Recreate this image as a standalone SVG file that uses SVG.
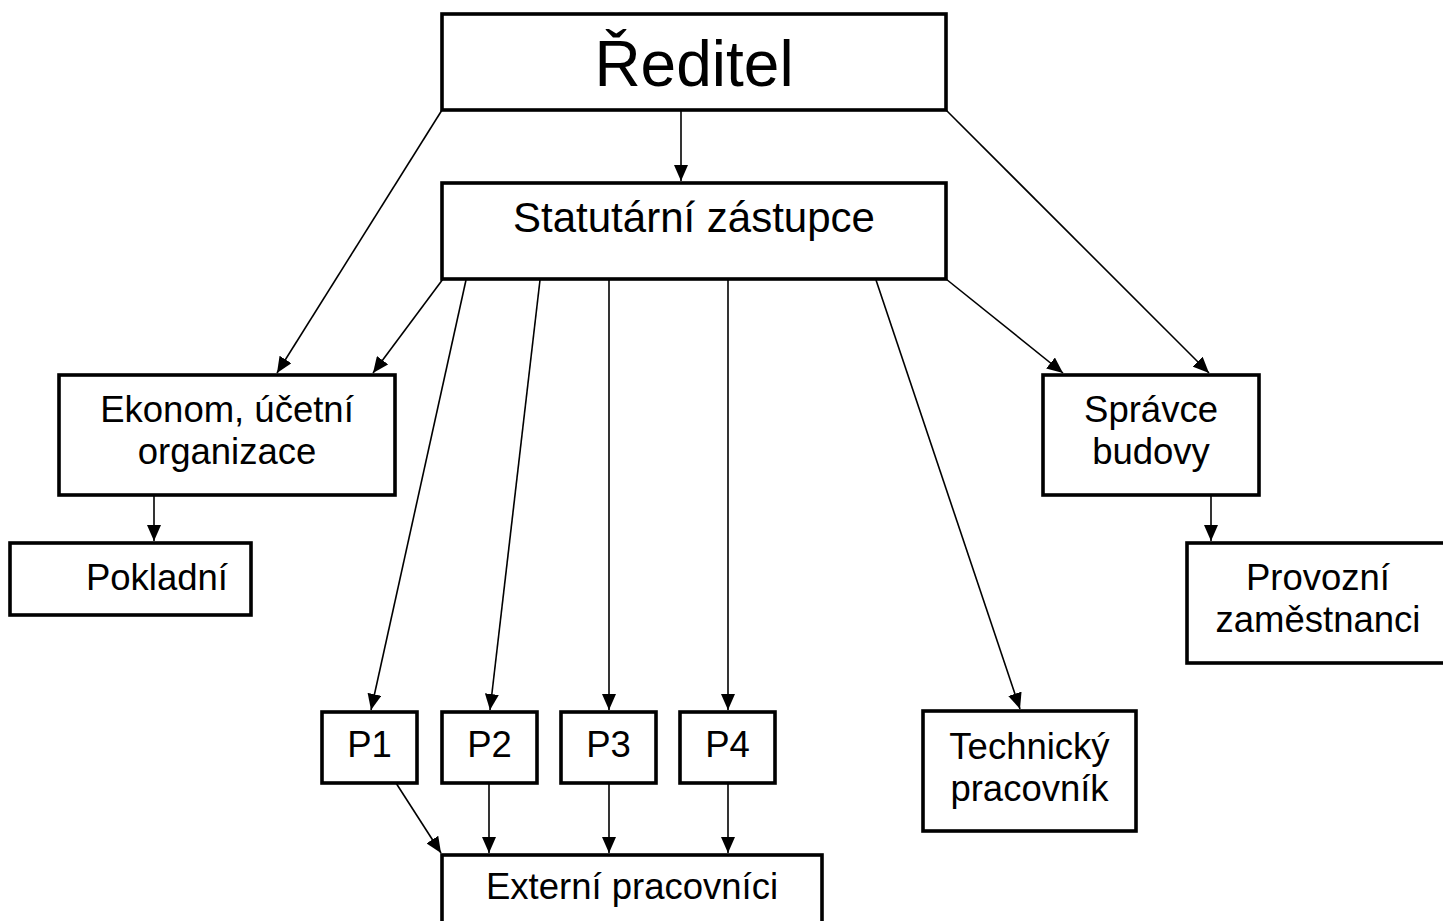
<svg xmlns="http://www.w3.org/2000/svg" width="1443" height="921" viewBox="0 0 1443 921">
<style>
.box{fill:#fff;stroke:#000;stroke-width:3.6}
.t{font-family:"Liberation Sans",Arial,sans-serif;font-size:36.5px;fill:#000;text-anchor:middle}
.c{fill:none;stroke:#000;stroke-width:1.6}
</style>
<defs>
<marker id="ah" markerUnits="userSpaceOnUse" markerWidth="16" markerHeight="14" refX="16" refY="7" orient="auto">
<path d="M0,0 L16,7 L0,14 z" fill="#000"/>
</marker>
</defs>
<rect width="1443" height="921" fill="#fff"/>
<g id="connectors">
<line class="c" x1="681" y1="110" x2="681" y2="181" marker-end="url(#ah)"/>
<line class="c" x1="442" y1="110" x2="277" y2="373" marker-end="url(#ah)"/>
<line class="c" x1="946" y1="110" x2="1209" y2="373" marker-end="url(#ah)"/>
<line class="c" x1="443" y1="279" x2="373" y2="373" marker-end="url(#ah)"/>
<line class="c" x1="946" y1="279" x2="1063" y2="373" marker-end="url(#ah)"/>
<line class="c" x1="466" y1="280" x2="371" y2="710" marker-end="url(#ah)"/>
<line class="c" x1="540" y1="280" x2="490" y2="710" marker-end="url(#ah)"/>
<line class="c" x1="609" y1="280" x2="609" y2="710" marker-end="url(#ah)"/>
<line class="c" x1="728" y1="280" x2="728" y2="710" marker-end="url(#ah)"/>
<line class="c" x1="876" y1="280" x2="1020" y2="709" marker-end="url(#ah)"/>
<line class="c" x1="154" y1="495" x2="154" y2="541" marker-end="url(#ah)"/>
<line class="c" x1="1211" y1="495" x2="1211" y2="541" marker-end="url(#ah)"/>
<line class="c" x1="396" y1="783" x2="441" y2="853" marker-end="url(#ah)"/>
<line class="c" x1="489" y1="783" x2="489" y2="853" marker-end="url(#ah)"/>
<line class="c" x1="609" y1="783" x2="609" y2="853" marker-end="url(#ah)"/>
<line class="c" x1="728" y1="783" x2="728" y2="853" marker-end="url(#ah)"/>
</g>
<g id="reditel">
<rect class="box" x="442" y="14" width="504" height="96"/>
<text class="t" x="694" y="86" style="font-size:64px">Ředitel</text>
</g>
<g id="statutarni">
<rect class="box" x="442" y="183" width="504" height="96"/>
<text class="t" x="694" y="232" style="font-size:42px">Statutární zástupce</text>
</g>
<g id="ekonom">
<rect class="box" x="59" y="375" width="336" height="120"/>
<text class="t" x="227" y="422">Ekonom, účetní</text>
<text class="t" x="227" y="464">organizace</text>
</g>
<g id="pokladni">
<rect class="box" x="10" y="543" width="241" height="72"/>
<text class="t" x="157" y="590">Pokladní</text>
</g>
<g id="spravce">
<rect class="box" x="1043" y="375" width="216" height="120"/>
<text class="t" x="1151" y="422">Správce</text>
<text class="t" x="1151" y="464">budovy</text>
</g>
<g id="provozni">
<rect class="box" x="1187" y="543" width="262" height="120"/>
<text class="t" x="1318" y="590">Provozní</text>
<text class="t" x="1318" y="632">zaměstnanci</text>
</g>
<g id="p1">
<rect class="box" x="322" y="712" width="95" height="71"/>
<text class="t" x="369.5" y="757">P1</text>
</g>
<g id="p2">
<rect class="box" x="442" y="712" width="95" height="71"/>
<text class="t" x="489.5" y="757">P2</text>
</g>
<g id="p3">
<rect class="box" x="561" y="712" width="95" height="71"/>
<text class="t" x="608.5" y="757">P3</text>
</g>
<g id="p4">
<rect class="box" x="680" y="712" width="95" height="71"/>
<text class="t" x="727.5" y="757">P4</text>
</g>
<g id="externi">
<rect class="box" x="442" y="855" width="380" height="80"/>
<text class="t" x="632" y="899">Externí pracovníci</text>
</g>
<g id="technicky">
<rect class="box" x="923" y="711" width="213" height="120"/>
<text class="t" x="1029.5" y="759">Technický</text>
<text class="t" x="1029.5" y="801">pracovník</text>
</g>
</svg>
